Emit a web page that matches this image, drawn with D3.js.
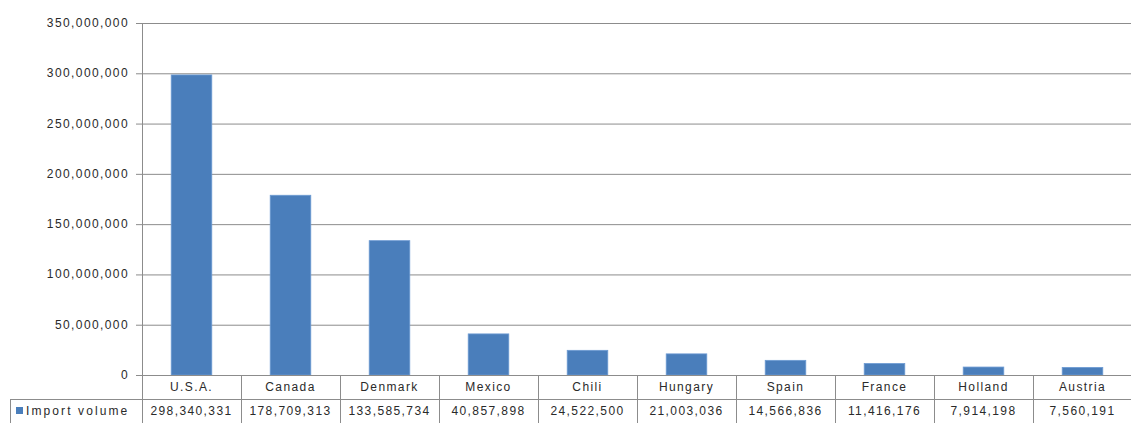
<!DOCTYPE html>
<html>
<head>
<meta charset="utf-8">
<script src="https://cdn.jsdelivr.net/npm/d3@7"></script>
<style>
  body { margin: 0; background: #fff; }
  svg text { font-family: "Liberation Sans", Arial, sans-serif; fill: #2a2a2a; font-size: 12px; letter-spacing: 1.4px; }
</style>
</head>
<body>
<div id="chart"></div>
<script>
// chart data
var countries = ["U.S.A.", "Canada", "Denmark", "Mexico", "Chili", "Hungary", "Spain", "France", "Holland", "Austria"];
var importVolume = [298340331, 178709313, 133585734, 40857898, 24522500, 21003036, 14566836, 11416176, 7914198, 7560191];
var valueLabels = ["298,340,331", "178,709,313", "133,585,734", "40,857,898", "24,522,500", "21,003,036", "14,566,836", "11,416,176", "7,914,198", "7,560,191"];
var yTicks = [0, 50000000, 100000000, 150000000, 200000000, 250000000, 300000000, 350000000];
var seriesName = "Import volume";

var width = 1131, height = 425;
var margin = {top: 23, right: 0, bottom: 50, left: 142};
var rowH = 24;

var svg = d3.select("#chart").append("svg")
    .attr("width", width)
    .attr("height", height);

var x = d3.scaleBand()
    .domain(countries)
    .range([margin.left, margin.left + 990])
    .paddingInner(0.59)
    .paddingOuter(0.295);

var y = d3.scaleLinear()
    .domain([0, 350000000])
    .range([375, margin.top]);

// grid lines
svg.append("g").selectAll("line")
    .data(yTicks)
    .enter().append("line")
    .attr("x1", margin.left - 6)
    .attr("x2", width)
    .attr("y1", function (d) { return y(d) + 0.5; })
    .attr("y2", function (d) { return y(d) + 0.5; })
    .attr("stroke", "#8c8c8c")
    .attr("stroke-width", 1);

// y labels
svg.append("g").selectAll("text")
    .data(yTicks)
    .enter().append("text")
    .attr("x", margin.left - 13)
    .attr("y", function (d) { return y(d) + 4; })
    .attr("text-anchor", "end")
    .text(function (d) { return d3.format(",")(d); });

// vertical axis
svg.append("line")
    .attr("x1", margin.left + 0.5).attr("x2", margin.left + 0.5)
    .attr("y1", margin.top).attr("y2", 375)
    .attr("stroke", "#8c8c8c");

// bars
svg.append("g").selectAll("rect")
    .data(importVolume)
    .enter().append("rect")
    .attr("x", function (d, i) { return x(countries[i]); })
    .attr("y", function (d) { return y(d); })
    .attr("width", x.bandwidth())
    .attr("height", function (d) { return y(0) - y(d); })
    .attr("fill", "#4a7ebb")
    .attr("stroke", "#6d9bd3")
    .attr("stroke-width", 0.8);

// data table
var t0 = 375, t1 = t0 + rowH, t2 = t1 + rowH;
var table = svg.append("g").attr("stroke", "#8c8c8c").attr("stroke-width", 1);
table.append("line").attr("x1", margin.left).attr("x2", width).attr("y1", t0 + 0.5).attr("y2", t0 + 0.5);
table.append("line").attr("x1", 10).attr("x2", width).attr("y1", t1 + 0.5).attr("y2", t1 + 0.5);
table.append("line").attr("x1", 10.5).attr("x2", 10.5).attr("y1", t1).attr("y2", t2);
table.selectAll(".vline")
    .data(countries)
    .enter().append("line")
    .attr("x1", function (d) { return Math.round(x(d) - x.step() * 0.295) + 0.5; })
    .attr("x2", function (d) { return Math.round(x(d) - x.step() * 0.295) + 0.5; })
    .attr("y1", t0).attr("y2", t2);

svg.append("g").selectAll("text")
    .data(countries)
    .enter().append("text")
    .attr("x", function (d) { return x(d) + x.bandwidth() / 2; })
    .attr("y", t0 + 16)
    .attr("text-anchor", "middle")
    .text(function (d) { return d; });

svg.append("g").selectAll("text")
    .data(valueLabels)
    .enter().append("text")
    .attr("x", function (d, i) { return x(countries[i]) + x.bandwidth() / 2; })
    .attr("y", t1 + 16)
    .attr("text-anchor", "middle")
    .text(function (d) { return d; });

// legend key in table
svg.append("rect")
    .attr("x", 16).attr("y", t1 + 8)
    .attr("width", 7).attr("height", 7)
    .attr("fill", "#4a7ebb");
svg.append("text")
    .attr("x", 26).attr("y", t1 + 16)
    .style("letter-spacing", "2.1px")
    .text(seriesName);
</script>
</body>
</html>
